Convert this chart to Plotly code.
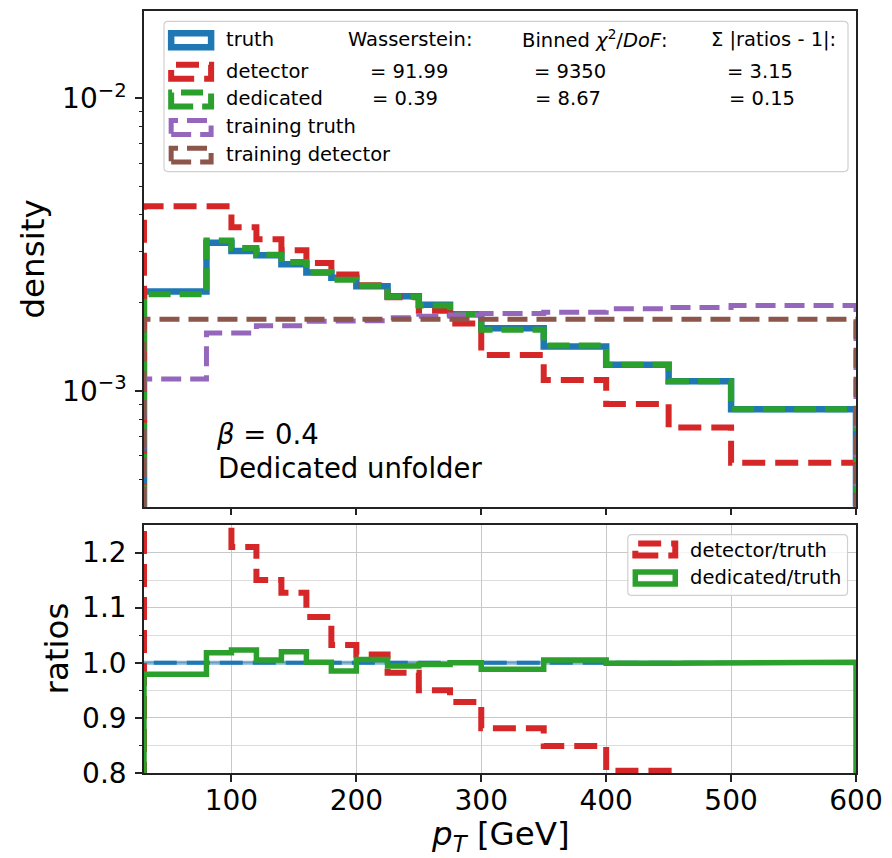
import plotly.graph_objects as go

# ---------------- data ----------------
bin_edges = [30, 80, 100, 120, 140, 160, 180, 200, 225, 250, 275, 300, 350, 400, 450, 500, 600]

truth = [2.19e-3, 3.21e-3, 3.01e-3, 2.91e-3, 2.71e-3, 2.54e-3, 2.44e-3, 2.28e-3,
         2.11e-3, 1.97e-3, 1.83e-3, 1.64e-3, 1.42e-3, 1.23e-3, 1.08e-3, 8.66e-4]
detector = [4.28e-3, 4.28e-3, 3.63e-3, 3.30e-3, 3.03e-3, 2.74e-3, 2.50e-3, 2.30e-3,
            2.09e-3, 1.88e-3, 1.70e-3, 1.327e-3, 1.09e-3, 9.03e-4, 7.50e-4, 5.69e-4]
dedicated = [2.14e-3, 3.27e-3, 3.08e-3, 2.92e-3, 2.76e-3, 2.54e-3, 2.40e-3, 2.29e-3,
             2.10e-3, 1.96e-3, 1.83e-3, 1.62e-3, 1.43e-3, 1.23e-3, 1.08e-3, 8.67e-4]
training_truth = [1.10e-3, 1.58e-3, 1.58e-3, 1.67e-3, 1.67e-3, 1.73e-3, 1.74e-3, 1.74e-3,
                  1.78e-3, 1.80e-3, 1.82e-3, 1.84e-3, 1.86e-3, 1.91e-3, 1.93e-3, 1.96e-3]
training_detector = [1.76e-3, 1.76e-3, 1.76e-3, 1.76e-3, 1.76e-3, 1.76e-3, 1.76e-3, 1.76e-3,
                     1.76e-3, 1.76e-3, 1.76e-3, 1.76e-3, 1.76e-3, 1.76e-3, 1.76e-3, 1.76e-3]

ratio_truth = [1.0, 1.0, 1.0, 1.0, 1.0, 1.0, 1.0, 1.0, 1.0, 1.0, 1.0, 1.0, 1.0, 1.0, 1.0, 1.0]
ratio_detector = [1.95, 1.33, 1.21, 1.15, 1.127, 1.083, 1.032, 1.015,
                  0.982, 0.95, 0.929, 0.881, 0.849, 0.804, 0.69, 0.657]
ratio_dedicated = [0.979, 1.018, 1.023, 1.005, 1.020, 1.001, 0.985, 1.006,
                   0.994, 0.997, 1.000, 0.988, 1.005, 0.999, 0.999, 1.001]

legend_names = ["truth", "detector", "dedicated", "training truth", "training detector"]
metric_headers = ["Wasserstein:", "Binned <i>χ</i><sup>2</sup>/<i>DoF</i>:", "Σ |ratios - 1|:"]
metric_detector = ["= 91.99", "= 9350", "= 3.15"]
metric_dedicated = ["= 0.39", "= 8.67", "= 0.15"]
ratio_names = ["detector/truth", "dedicated/truth"]

x_ticks = [100, 200, 300, 400, 500, 600]
y_ticks_top = [1e-3, 1e-2]
y_ticks_top_text = ["10<sup>−3</sup>", "10<sup>−2</sup>"]
y_minor_top = [4e-4, 5e-4, 6e-4, 7e-4, 8e-4, 9e-4, 2e-3, 3e-3, 4e-3, 5e-3, 6e-3, 7e-3, 8e-3, 9e-3]
y_ticks_ratio = [0.8, 0.9, 1.0, 1.1, 1.2]
y_ticks_ratio_text = ["0.8", "0.9", "1.0", "1.1", "1.2"]
y_minor_ratio = [0.85, 0.95, 1.05, 1.15]

# ---------------- styling ----------------
FONT = "DejaVu Sans"
C_BLUE, C_RED, C_GREEN, C_PURPLE, C_BROWN = "#1f77b4", "#d62728", "#2ca02c", "#9467bd", "#8c564b"
FIG_W, FIG_H = 892, 858
ML, MR, MT, MB = 144, 35, 9, 85
PW, PH = FIG_W - ML - MR, FIG_H - MT - MB
Y_LOG_RANGE = [-3.3955, -1.701]
Y_TOP_MIN = 10 ** Y_LOG_RANGE[0]


def px_x(px):
    return (px - ML) / PW


def px_y(py):
    return (FIG_H - MB - py) / PH


def step_xy(edges, values, base):
    xs, ys = [edges[0]], [base]
    for i, v in enumerate(values):
        xs += [edges[i], edges[i + 1]]
        ys += [v, v]
    xs.append(edges[-1])
    ys.append(base)
    return xs, ys


fig = go.Figure()

DASH = "23px,10px"
DASH_T = "20px,9px"
top_series = [
    (truth, C_BLUE, 6.5, "solid"),
    (detector, C_RED, 6, DASH),
    (dedicated, C_GREEN, 6, "22px,9px"),
    (training_truth, C_PURPLE, 5, DASH_T),
    (training_detector, C_BROWN, 5, DASH_T),
]
for vals, col, w, dash in top_series:
    xs, ys = step_xy(bin_edges, vals, Y_TOP_MIN)
    fig.add_trace(go.Scatter(x=xs, y=ys, mode="lines", xaxis="x", yaxis="y",
                             line=dict(color=col, width=w, dash=dash),
                             showlegend=False, hoverinfo="skip"))

# ratio panel
xs, ys = step_xy(bin_edges, ratio_truth, 0)
fig.add_trace(go.Scatter(x=xs, y=ys, mode="lines", xaxis="x2", yaxis="y2",
                         line=dict(color="rgba(31,119,180,0.55)", width=4),
                         showlegend=False, hoverinfo="skip"))
fig.add_trace(go.Scatter(x=xs, y=ys, mode="lines", xaxis="x2", yaxis="y2",
                         line=dict(color=C_BLUE, width=4, dash=DASH),
                         showlegend=False, hoverinfo="skip"))
xs, ys = step_xy(bin_edges, ratio_detector, 0)
fig.add_trace(go.Scatter(x=xs, y=ys, mode="lines", xaxis="x2", yaxis="y2",
                         line=dict(color=C_RED, width=6, dash=DASH),
                         showlegend=False, hoverinfo="skip"))
xs, ys = step_xy(bin_edges, ratio_dedicated, 0)
fig.add_trace(go.Scatter(x=xs, y=ys, mode="lines", xaxis="x2", yaxis="y2",
                         line=dict(color=C_GREEN, width=5.5),
                         showlegend=False, hoverinfo="skip"))

shapes = []
annotations = []


def rounded_box(x0, y0, x1, y1, r=4):
    def P(x, y):
        return f"{px_x(x):.5f},{px_y(y):.5f}"
    path = (f"M {P(x0 + r, y0)} L {P(x1 - r, y0)} Q {P(x1, y0)} {P(x1, y0 + r)} "
            f"L {P(x1, y1 - r)} Q {P(x1, y1)} {P(x1 - r, y1)} "
            f"L {P(x0 + r, y1)} Q {P(x0, y1)} {P(x0, y1 - r)} "
            f"L {P(x0, y0 + r)} Q {P(x0, y0)} {P(x0 + r, y0)} Z")
    return dict(type="path", xref="paper", yref="paper", path=path,
                line=dict(color="#d0d0d0", width=1.2),
                fillcolor="rgba(255,255,255,0.8)", layer="above")


def sample_rect(cx, cy, col, w, dash, hw=20, hh=7):
    return dict(type="rect", xref="paper", yref="paper",
                x0=px_x(cx - hw), x1=px_x(cx + hw), y0=px_y(cy + hh), y1=px_y(cy - hh),
                line=dict(color=col, width=w, dash=dash), fillcolor="rgba(0,0,0,0)",
                layer="above")


def text(x, y, s, size=19.5, anchor="left"):
    return dict(xref="paper", yref="paper", x=px_x(x), y=px_y(y), text=s,
                showarrow=False, xanchor=anchor, yanchor="middle",
                font=dict(family=FONT, size=size, color="black"))


# top legend
shapes.append(rounded_box(164, 19.5, 849, 170))
row_y = [37.5, 69.2, 97, 125, 152.7]
for (vals, col, w, dash), name, ry in zip(top_series, legend_names, row_y):
    shapes.append(sample_rect(191.2, ry + 0.8, col, w, dash))
    annotations.append(text(224.5, ry, name))
for hx, h in zip([346.5, 520.5, 709.5], metric_headers):
    annotations.append(text(hx, row_y[0], h))
for vx, v in zip([368.5, 532.5, 725.5], metric_detector):
    annotations.append(text(vx, row_y[1], v))
for vx, v in zip([370.5, 533.5, 727.5], metric_dedicated):
    annotations.append(text(vx, row_y[2], v))

# ratio legend
shapes.append(rounded_box(628.5, 534, 848.5, 595))
shapes.append(sample_rect(656, 549, C_RED, 6, DASH, hw=20, hh=6))
shapes.append(sample_rect(656, 577.5, C_GREEN, 5.5, "solid", hw=20, hh=6))
annotations.append(text(689, 550, ratio_names[0]))
annotations.append(text(689, 577.3, ratio_names[1]))

# in-plot labels
annotations.append(text(214, 433.5, "<i>β</i> = 0.4", size=27.5))
annotations.append(text(216.5, 466.7, "Dedicated unfolder", size=27.5))

# axis titles
annotations.append(dict(xref="paper", yref="paper", x=px_x(32.5), y=px_y(257.5),
                        text="density", textangle=-90, showarrow=False,
                        xanchor="center", yanchor="middle",
                        font=dict(family=FONT, size=32.5, color="black")))
annotations.append(dict(xref="paper", yref="paper", x=px_x(56.5), y=px_y(648.5),
                        text="ratios", textangle=-90, showarrow=False,
                        xanchor="center", yanchor="middle",
                        font=dict(family=FONT, size=32.5, color="black")))
annotations.append(dict(xref="paper", yref="paper", x=px_x(500.5), y=px_y(836),
                        text="<i>p</i><sub><i>T</i></sub> [GeV]", showarrow=False,
                        xanchor="center", yanchor="middle",
                        font=dict(family=FONT, size=32.5, color="black")))

axis_common = dict(showline=True, mirror=True, linecolor="#222222", linewidth=1.5,
                   ticks="outside", ticklen=7, tickwidth=1.5, tickcolor="#222222",
                   zeroline=False, tickfont=dict(family=FONT, size=28, color="black"))

fig.update_layout(
    width=FIG_W, height=FIG_H,
    margin=dict(l=ML, r=MR, t=MT, b=MB, pad=0),
    paper_bgcolor="white", plot_bgcolor="white",
    font=dict(family=FONT, color="black"),
    showlegend=False,
    xaxis=dict(domain=[0, 1], anchor="y", range=[30, 600], tickvals=x_ticks,
               showticklabels=False, showgrid=False, **axis_common),
    yaxis=dict(domain=[px_y(506), 1], anchor="x", type="log", range=Y_LOG_RANGE,
               tickvals=y_ticks_top, ticktext=y_ticks_top_text, showgrid=False,
               ticklabelstandoff=3,
               minor=dict(tickvals=y_minor_top, ticks="outside", ticklen=3.5,
                          tickwidth=1.2, tickcolor="#222222", showgrid=False),
               **axis_common),
    xaxis2=dict(domain=[0, 1], anchor="y2", range=[30, 600], tickvals=x_ticks,
                ticktext=[str(v) for v in x_ticks], showgrid=True, gridcolor="#c8c8c8",
                gridwidth=1.2, ticklabelstandoff=-5, **axis_common),
    yaxis2=dict(domain=[0, px_y(524.3)], anchor="x2", range=[0.8, 1.25],
                tickvals=y_ticks_ratio, ticktext=y_ticks_ratio_text, showgrid=True,
                gridcolor="#c8c8c8", gridwidth=1.2, ticklabelstandoff=3,
                minor=dict(tickvals=y_minor_ratio, ticks="outside", ticklen=3.5,
                           tickwidth=1.2, tickcolor="#222222", showgrid=True,
                           gridcolor="#dcdcdc", gridwidth=1.2),
                **axis_common),
    shapes=shapes,
    annotations=annotations,
)

fig.write_html("out.html", config={"displayModeBar": False},
               post_script="document.body.style.margin='0px';document.body.style.padding='0px';")
